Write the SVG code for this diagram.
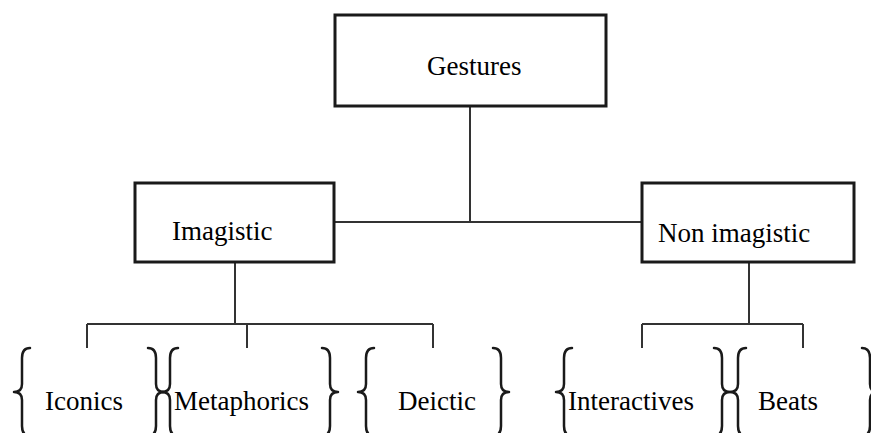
<svg xmlns="http://www.w3.org/2000/svg" width="871" height="433" viewBox="0 0 871 433">
<defs>
<path id="lb" d="M8,-44 Q0,-44 0,-34 L0,-8 Q0,0 -8,0 Q0,0 0,8 L0,34 Q0,44 8,44" fill="none" stroke="#1a1a1a" stroke-width="2.5" stroke-linecap="round" stroke-linejoin="round"/>
<path id="rb" d="M-8,-44 Q0,-44 0,-34 L0,-8 Q0,0 8,0 Q0,0 0,8 L0,34 Q0,44 -8,44" fill="none" stroke="#1a1a1a" stroke-width="2.5" stroke-linecap="round" stroke-linejoin="round"/>
</defs>
<rect width="871" height="433" fill="#fff"/>
<g id="connectors" stroke="#333" stroke-width="2">
<line x1="470" y1="106" x2="470" y2="222"/>
<line x1="334" y1="222" x2="642" y2="222"/>
<line x1="235" y1="262" x2="235" y2="324"/>
<line x1="87" y1="324" x2="433" y2="324"/>
<line x1="87" y1="324" x2="87" y2="348"/>
<line x1="247" y1="324" x2="247" y2="348"/>
<line x1="433" y1="324" x2="433" y2="348"/>
<line x1="749" y1="262" x2="749" y2="324"/>
<line x1="642" y1="324" x2="803" y2="324"/>
<line x1="642" y1="324" x2="642" y2="348"/>
<line x1="803" y1="324" x2="803" y2="348"/>
</g>
<g id="node-gestures">
<rect x="335" y="15" width="271" height="91" fill="#fff" stroke="#1a1a1a" stroke-width="3"/>
<text x="427" y="75" style="font-family:'Liberation Serif',serif;font-size:27px">Gestures</text>
</g>
<g id="node-imagistic">
<rect x="135" y="183" width="199" height="79" fill="#fff" stroke="#1a1a1a" stroke-width="3"/>
<text x="172" y="240" style="font-family:'Liberation Serif',serif;font-size:27px">Imagistic</text>
</g>
<g id="node-nonimagistic">
<rect x="642" y="183" width="212" height="79" fill="#fff" stroke="#1a1a1a" stroke-width="3"/>
<text x="658" y="242" style="font-family:'Liberation Serif',serif;font-size:27px">Non imagistic</text>
</g>
<g id="node-iconics">
<use href="#lb" x="22" y="392"/>
<use href="#rb" x="156" y="392"/>
<text x="45" y="410" style="font-family:'Liberation Serif',serif;font-size:27px">Iconics</text>
</g>
<g id="node-metaphorics">
<use href="#lb" x="170" y="392"/>
<use href="#rb" x="330" y="392"/>
<text x="174" y="410" style="font-family:'Liberation Serif',serif;font-size:27px">Metaphorics</text>
</g>
<g id="node-deictic">
<use href="#lb" x="366" y="392"/>
<use href="#rb" x="501" y="392"/>
<text x="398" y="410" style="font-family:'Liberation Serif',serif;font-size:27px">Deictic</text>
</g>
<g id="node-interactives">
<use href="#lb" x="564" y="392"/>
<use href="#rb" x="722" y="392"/>
<text x="568" y="410" style="font-family:'Liberation Serif',serif;font-size:27px">Interactives</text>
</g>
<g id="node-beats">
<use href="#lb" x="738" y="392"/>
<use href="#rb" x="870" y="392"/>
<text x="758" y="410" style="font-family:'Liberation Serif',serif;font-size:27px">Beats</text>
</g>
</svg>
